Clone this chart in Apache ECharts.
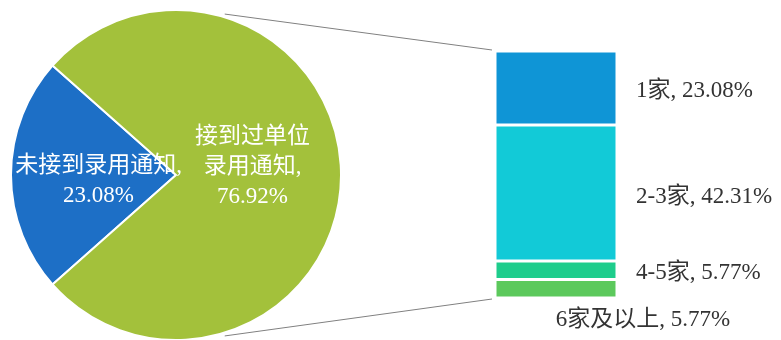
<!DOCTYPE html>
<html><head><meta charset="utf-8">
<script src="https://cdn.jsdelivr.net/npm/echarts@6/dist/echarts.min.js"></script>
<style>html,body{margin:0;padding:0;background:#fff}#c{width:781px;height:340px}</style>
</head><body><div id="c"></div>
<script>
// Pie data
const pieNames = ['未接到录用通知', '接到过单位录用通知'];
const pieLabels = ['未接到录用通知,\n23.08%', '接到过单位\n录用通知,\n76.92%'];
const pieValues = [23.08, 76.92];
// Breakdown bar data
const barNames = ['1家', '2-3家', '4-5家', '6家及以上'];
const barValues = [23.08, 42.31, 5.77, 5.77];

const pieColors = ['#1d6fc6', '#a3c13b'];
const barColors = ['#0f95d6', '#12cad7', '#1ecd8c', '#5cc95c'];
const serif = '"Liberation Serif", "Times New Roman", "Noto Sans CJK SC", serif';

const cx = 176, cy = 175, R = 165;
const gL = 495, gT = 51, gW = 122, gH = 247;

const chart = echarts.init(document.getElementById('c'));
const barTotal = barValues.reduce((a, b) => a + b, 0);

const barOffsets = [[0, 3], [0, 4], [0, 3], [87, 0]];
const barSeries = barNames.map((n, i) => ({
  type: 'bar', name: n, stack: 's', barWidth: gW,
  data: [barValues[i]],
  itemStyle: { color: barColors[i], borderColor: '#fff', borderWidth: 1.5 },
  label: {
    show: true,
    position: i === barNames.length - 1 ? 'bottom' : 'right',
    distance: i === barNames.length - 1 ? 10 : 19,
    offset: barOffsets[i],
    formatter: n + ', ' + barValues[i].toFixed(2) + '%',
    color: '#333', fontSize: 23, fontFamily: serif
  }
}));

const a = 73 * Math.PI / 180;
chart.setOption({
  animation: false,
  grid: { left: gL, top: gT, width: gW, height: gH },
  xAxis: { type: 'category', data: ['x'], show: false },
  yAxis: { type: 'value', min: 0, max: barTotal, inverse: true, show: false },
  graphic: [
    { type: 'line', shape: { x1: cx + R * Math.cos(a) * 1.01, y1: cy - R * Math.sin(a) * 1.02, x2: gL - 3, y2: gT - 1 }, style: { stroke: '#808080', lineWidth: 1 } },
    { type: 'line', shape: { x1: cx + R * Math.cos(a) * 1.01, y1: cy + R * Math.sin(a) * 1.02, x2: gL - 3, y2: gT + gH + 1 }, style: { stroke: '#808080', lineWidth: 1 } }
  ],
  series: [{
    type: 'pie', center: [cx, cy], radius: R,
    startAngle: 180 + pieValues[0] / 100 * 180,
    clockwise: true,
    itemStyle: { borderColor: '#fff', borderWidth: 2 },
    label: { show: true, position: 'inside', color: '#fff', fontSize: 23, lineHeight: 30, fontFamily: serif },
    labelLine: { show: false },
    data: pieNames.map((n, i) => ({
      name: n, value: pieValues[i],
      itemStyle: { color: pieColors[i] },
      label: { formatter: pieLabels[i], offset: i === 0 ? [8, 6] : [-9, -8] }
    }))
  }].concat(barSeries)
});
</script></body></html>
